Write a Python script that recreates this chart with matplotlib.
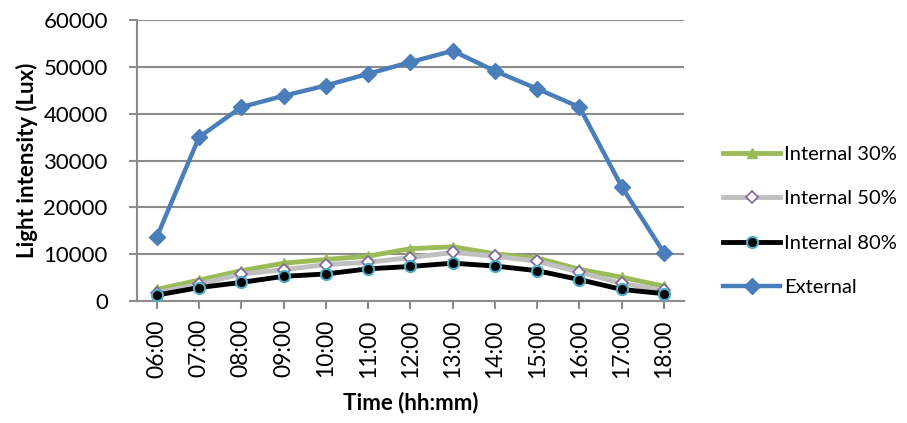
import matplotlib
matplotlib.use("Agg")
import matplotlib.pyplot as plt
import numpy as np

plt.rcParams['font.family'] = ['Lato', 'DejaVu Sans']

times = ['06:00', '07:00', '08:00', '09:00', '10:00', '11:00', '12:00',
         '13:00', '14:00', '15:00', '16:00', '17:00', '18:00']

internal_30 = [2500, 4500, 6500, 8100, 8900, 9600, 11200, 11600, 10100, 9200, 6800, 5100, 3200]
internal_50 = [1800, 3600, 5800, 6700, 7800, 8300, 9300, 10400, 9600, 8500, 6200, 3800, 2300]
internal_80 = [1300, 2900, 4000, 5300, 5800, 6900, 7400, 8100, 7500, 6500, 4600, 2500, 1600]
external = [13700, 35000, 41400, 43800, 46000, 48500, 51000, 53400, 49100, 45300, 41400, 24400, 10300]

grid_color = '#8c8c8c'

fig = plt.figure(figsize=(9.07, 4.23), dpi=100)
ax = fig.add_axes([0.151, 0.288, 0.603, 0.665])

x = np.arange(len(times))

ax.plot(x, internal_30, color='#9BBB59', linewidth=3.5, marker='^', markersize=7,
        markerfacecolor='#9BBB59', markeredgecolor='#9BBB59', label='Internal 30%', zorder=3)
ax.plot(x, internal_50, color='#C0C0C0', linewidth=3.5, marker='D', markersize=6,
        markerfacecolor='white', markeredgecolor='#8064A2', markeredgewidth=1.2,
        label='Internal 50%', zorder=4)
ax.plot(x, internal_80, color='black', linewidth=3.5, marker='o', markersize=8,
        markerfacecolor='black', markeredgecolor='#4BACC6', markeredgewidth=1.5,
        label='Internal 80%', zorder=5)
ax.plot(x, external, color='#4A7EBB', linewidth=3.2, marker='D', markersize=8,
        markerfacecolor='#4A7EBB', markeredgecolor='#4A7EBB', label='External', zorder=6)

ax.set_xlim(-0.47, len(times) - 0.53)
ax.set_ylim(0, 60000)
ax.set_yticks(np.arange(0, 60001, 10000))
ax.set_xticks(x)
ax.set_xticklabels(times, rotation=90, fontsize=16.5)
ax.tick_params(axis='y', labelsize=16, length=6, color=grid_color, width=1.5, pad=15)
ax.tick_params(axis='x', length=6, color=grid_color, width=1.5, pad=7)

ax.grid(axis='y', color=grid_color, linewidth=1.5)
ax.set_axisbelow(True)
for side in ['top', 'right']:
    ax.spines[side].set_visible(False)
for side in ['left', 'bottom']:
    ax.spines[side].set_color(grid_color)
    ax.spines[side].set_linewidth(1.5)

ax.set_xlabel('Time (hh:mm)', fontsize=16, fontweight='bold', labelpad=10)
ax.set_ylabel('Light intensity (Lux)', fontsize=16, fontweight='bold', labelpad=4)

# legend sits to the right of the plot area, its lines starting just past the grid
ax.legend(loc='center left', bbox_to_anchor=(723 / 907, 1 - 221 / 423),
          bbox_transform=fig.transFigure, borderaxespad=0, borderpad=0,
          frameon=False, fontsize=14.5, handlelength=2.85, handletextpad=0.2,
          labelspacing=1.35)

fig.savefig('out.png', dpi=100)
